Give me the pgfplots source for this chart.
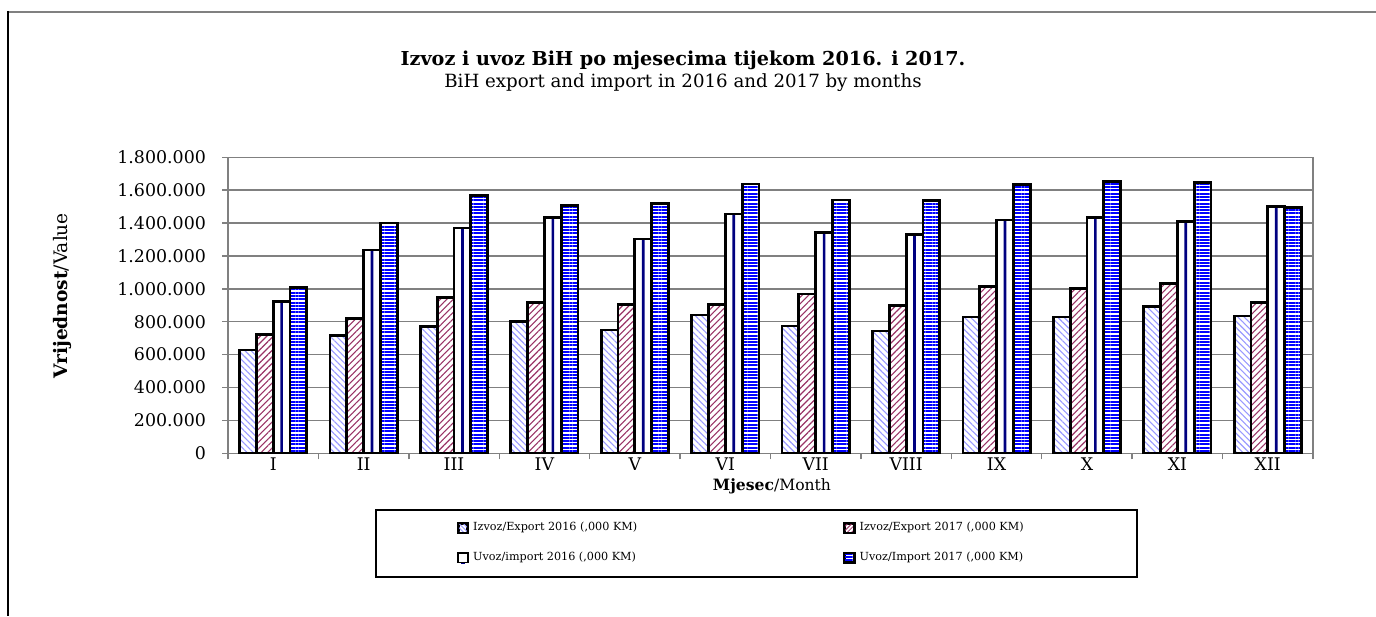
\documentclass[border=0pt]{standalone}
\usepackage{fontspec}
\setmainfont{DejaVu Serif}
\usepackage{pgfplots}
\usepackage{pgfplotstable}
\pgfplotsset{compat=1.18}
\usetikzlibrary{patterns,patterns.meta}
\definecolor{exA}{HTML}{9999FF}
\definecolor{exB}{HTML}{993366}
\definecolor{imA}{HTML}{000080}
\definecolor{imB}{HTML}{0000FF}
\definecolor{gridgray}{HTML}{808080}

\pgfplotstableread{
m e16 e17 i16 i17
0 628000 721000 922000 1009000
1 718000 819000 1236000 1400000
2 770000 945000 1370000 1570000
3 800000 915000 1436000 1505000
4 750000 904000 1303000 1520000
5 841000 904000 1455000 1638000
6 774000 969000 1344000 1540000
7 744000 897000 1331000 1535000
8 829000 1013000 1419000 1637000
9 829000 1000000 1433000 1652000
10 891000 1034000 1411000 1648000
11 835000 918000 1502000 1496000
}\data

\begin{document}
\begin{tikzpicture}
\path[use as bounding box] (0,0) rectangle (688pt,308pt);
\draw[gridgray, line width=1pt] (4pt,302pt) -- (688pt,302pt);
\draw[black, line width=1pt] (4pt,302.5pt) -- (4pt,0pt);
\node[font=\bfseries\fontsize{9.6pt}{11pt}\selectfont] at (341.5pt,278pt) {Izvoz i uvoz BiH po mjesecima tijekom 2016. i 2017.};
\node[font=\fontsize{9.1pt}{11pt}\selectfont] at (341.5pt,266.5pt) {BiH export and import in 2016 and 2017 by months};
\node[rotate=90, font=\fontsize{9.3pt}{10pt}\selectfont] at (31pt,160pt) {\textbf{Vrijednost}/Value};
\node[font=\fontsize{7.8pt}{10pt}\selectfont] at (386pt,65pt) {\textbf{Mjesec}/Month};
\draw[black, line width=0.6pt] (188pt,19.5pt) rectangle (568.5pt,53pt);
\begin{axis}[
  at={(114pt,81.35pt)}, anchor=south west,
  scale only axis, width=542.5pt, height=148pt,
  xmin=-0.5, xmax=11.5, ymin=0, ymax=1800000,
  ytick distance=200000, scaled y ticks=false,
  /pgf/number format/fixed, /pgf/number format/1000 sep={.},
  /pgf/number format/assume math mode=true,
  xtick={0,...,11},
  xticklabels={I,II,III,IV,V,VI,VII,VIII,IX,X,XI,XII},
  minor xtick={-0.5,0.5,...,11.5},
  xtick pos=bottom, ytick pos=left,
  tick align=outside, major tick length=3pt, minor tick length=3pt,
  major x tick style={draw=none},
  y tick style={gridgray, line width=0.7pt},
  minor x tick style={gridgray, line width=0.7pt},
  axis line style={gridgray, line width=0.75pt},
  ymajorgrids, grid style={gridgray, line width=0.7pt},
  tick label style={font=\fontsize{8.7pt}{10pt}\selectfont, black},
  yticklabel style={xshift=-4.5pt},
  xticklabel style={yshift=4.5pt},
  legend columns=2,
  legend cell align=left,
  legend style={draw=none, fill=none, at={(0.205,-0.303)}, anchor=west,
    font=\fontsize{5.6pt}{6.5pt}\selectfont, row sep=5pt,
    /tikz/every even column/.append style={column sep=101pt}},
]
\addplot[ybar, bar width=0.186, bar shift=-0.279, draw=black, line width=1.4pt,
  preaction={fill=white}, pattern={Lines[angle=-45,distance=2.2pt,line width=0.55pt]}, pattern color=exA,
  legend image code/.code={\draw[fill=white, draw=none] (0pt,-2.4pt) rectangle (4.8pt,2.4pt);
    \draw[pattern={Lines[angle=-45,distance=1.5pt,line width=0.4pt]}, pattern color=exA, draw=black, line width=0.8pt] (0pt,-2.4pt) rectangle (4.8pt,2.4pt);}]
  table[x=m,y=e16]{\data};
\addlegendentry{Izvoz/Export 2016 (,000 KM)}
\addplot[ybar, bar width=0.186, bar shift=-0.093, draw=black, line width=1.4pt,
  preaction={fill=white}, pattern={Lines[angle=45,distance=2.3pt,line width=0.55pt]}, pattern color=exB,
  legend image code/.code={\draw[fill=white, draw=none] (0pt,-2.4pt) rectangle (4.8pt,2.4pt);
    \draw[pattern={Lines[angle=45,distance=1.5pt,line width=0.4pt]}, pattern color=exB, draw=black, line width=0.8pt] (0pt,-2.4pt) rectangle (4.8pt,2.4pt);}]
  table[x=m,y=e17]{\data};
\addlegendentry{Izvoz/Export 2017 (,000 KM)}
\addplot[ybar, bar width=0.186, bar shift=0.093, draw=black, line width=1.4pt, fill=white,
  legend image code/.code={\draw[fill=white, draw=none] (0pt,-2.4pt) rectangle (4.8pt,2.4pt);
    \fill[imA] (2pt,-2.4pt) rectangle (2.8pt,2.4pt);
    \draw[draw=black, line width=0.8pt] (0pt,-2.4pt) rectangle (4.8pt,2.4pt);}]
  table[x=m,y=i16]{\data};
\addlegendentry{Uvoz/import 2016 (,000 KM)}
\addplot[ybar, bar width=0.186, bar shift=0.279, draw=black, line width=1.4pt,
  preaction={fill=white}, pattern={Lines[angle=0,distance=1.65pt,line width=1pt]}, pattern color=imB,
  legend image code/.code={\draw[fill=white, draw=none] (0pt,-2.4pt) rectangle (4.8pt,2.4pt);
    \draw[pattern={Lines[angle=0,distance=1.4pt,line width=0.8pt]}, pattern color=imB, draw=black, line width=0.8pt] (0pt,-2.4pt) rectangle (4.8pt,2.4pt);}]
  table[x=m,y=i17]{\data};
\addlegendentry{Uvoz/Import 2017 (,000 KM)}
\addplot[ybar, bar width=0.03, bar shift=0.093, draw=none, fill=imA, forget plot]
  table[x=m,y=i16]{\data};
\addplot[ybar, bar width=0.186, bar shift=0.093, draw=black, line width=1.4pt, fill=none, forget plot]
  table[x=m,y=i16]{\data};
\end{axis}
\end{tikzpicture}
\end{document}
